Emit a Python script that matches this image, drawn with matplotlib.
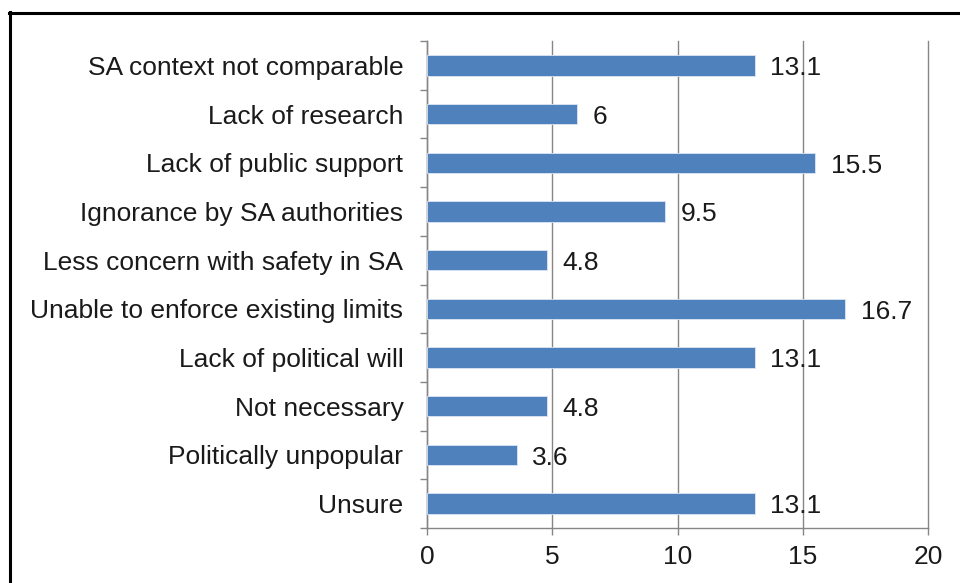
import matplotlib.pyplot as plt
from matplotlib.lines import Line2D

plt.rcParams['font.family'] = ['Liberation Sans', 'DejaVu Sans']

categories = ['SA context not comparable', 'Lack of research', 'Lack of public support',
              'Ignorance by SA authorities', 'Less concern with safety in SA',
              'Unable to enforce existing limits', 'Lack of political will',
              'Not necessary', 'Politically unpopular', 'Unsure']
values = [13.1, 6, 15.5, 9.5, 4.8, 16.7, 13.1, 4.8, 3.6, 13.1]
value_labels = ['13.1', '6', '15.5', '9.5', '4.8', '16.7', '13.1', '4.8', '3.6', '13.1']
x_ticks = [0, 5, 10, 15, 20]

fig = plt.figure(figsize=(9.6, 5.83), dpi=100)
ax = fig.add_axes([427 / 960, 1 - 528 / 583, (928 - 427) / 960, (528 - 41) / 583])

pos = list(range(len(categories)))
ax.barh(pos, values, height=0.42, color='#4F81BD', edgecolor='#DCE6F2', linewidth=0.6, zorder=3)
for p, v, t in zip(pos, values, value_labels):
    ax.annotate(t, (v, p), xytext=(11, -2), textcoords='offset points',
                va='center', ha='left', fontsize=19, color='#1a1a1a', zorder=4)

ax.set_xlim(0, 20)
ax.set_ylim(len(categories) - 0.5, -0.5)
ax.set_xticks(x_ticks)
ax.set_xticklabels([str(x) for x in x_ticks])
ax.set_yticks(pos)
ax.set_yticklabels(categories)
ax.set_yticks([p - 0.5 for p in pos] + [len(pos) - 0.5], minor=True)

ax.grid(axis='x', color='#868686', linewidth=1.0, zorder=0)
for gl in ax.get_xgridlines():
    gl.set_clip_on(False)
ax.set_axisbelow(True)
for s in ['top', 'right']:
    ax.spines[s].set_visible(False)
for s in ['left', 'bottom']:
    ax.spines[s].set_color('#868686')
    ax.spines[s].set_linewidth(1.0)

ax.tick_params(axis='y', which='major', length=0, pad=17, labelsize=19, labelcolor='#1a1a1a')
ax.tick_params(axis='y', which='minor', length=5, color='#868686', width=1.0)
ax.tick_params(axis='x', which='major', length=5, color='#868686', width=1.0, pad=7,
               labelsize=19, labelcolor='#1a1a1a')

# black frame around the chart area (only left and top visible)
fig.add_artist(Line2D([9.5 / 960, 9.5 / 960], [0, 1 - 12 / 583], color='black', linewidth=2.2,
                      transform=fig.transFigure))
fig.add_artist(Line2D([8.5 / 960, 1], [1 - 12.5 / 583, 1 - 12.5 / 583], color='black', linewidth=2.2,
                      transform=fig.transFigure))

fig.savefig('out.png', dpi=100)
